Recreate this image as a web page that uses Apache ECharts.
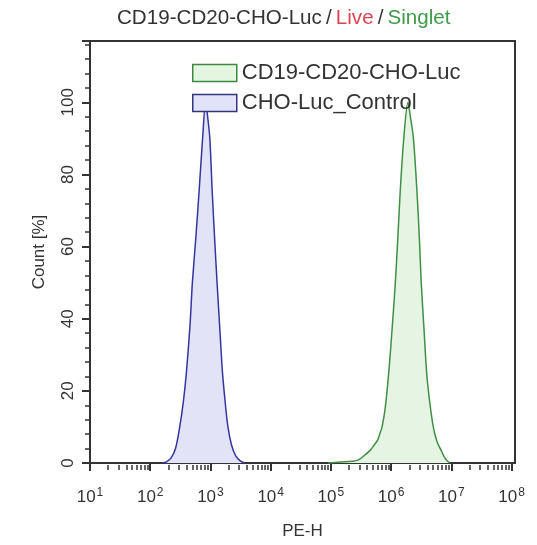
<!DOCTYPE html>
<html>
<head>
<meta charset="utf-8">
<script src="https://cdn.jsdelivr.net/npm/echarts@6/dist/echarts.min.js"></script>
<style>html,body{margin:0;padding:0;background:#fff}#c{width:537px;height:545px}</style>
</head>
<body>
<div id="c"></div>
<script>
// PE-H values (linear units) and Count [%] for each histogram
const controlName = 'CHO-Luc_Control';
const controlX = [158, 186, 224, 263, 309, 355, 398, 457, 501, 575, 646, 741, 832, 912, 977, 1072, 1175, 1288, 1445, 1585, 1778, 1950, 2239, 2630, 3162, 3715];
const controlY = [0, 0.3, 1.5, 4, 10, 17, 25, 38, 50, 63, 75, 90, 100, 95, 90, 75, 62, 50, 36, 25, 16, 10, 5, 2, 0.5, 0];

const sampleName = 'CD19-CD20-CHO-Luc';
const sampleX = [89125, 141254, 223872, 281838, 354813, 446684, 524807, 602560, 660693, 707946, 794328, 912011, 1047129, 1174898, 1288250, 1412538, 1621810, 1905461, 2089296, 2344229, 2691535, 2951209, 3162278, 3548134, 3890451, 4365158, 5011872, 5754399, 6760830, 7943282, 9332543];
const sampleY = [0, 0.3, 0.5, 0.8, 2, 3.5, 5, 6.5, 8.5, 10, 15, 25, 38, 50, 62, 75, 90, 100, 96, 90, 75, 62, 50, 36, 25, 17, 10, 6, 3.5, 1.2, 0];

const xMajorTicks = [10, 100, 1000, 10000, 100000, 1000000, 10000000, 100000000];
const yTicks = [0, 20, 40, 60, 80, 100];

const xMinorTicks = [];
xMajorTicks.slice(0, -1).forEach(d => { for (let k = 2; k <= 9; k++) xMinorTicks.push(d * k); });

const FONT = 'Liberation Sans, Arial, sans-serif';
const XMIN = 10, XMAX = 114000000, YMAX = 117;
const gridPos = { left: 90, right: 22, top: 41, bottom: 80 };

const pairs = (xs, ys) => xs.map((x, i) => [x, ys[i]]);

const chart = echarts.init(document.getElementById('c'), null, { renderer: 'canvas' });
chart.setOption({
  animation: false,
  backgroundColor: '#fff',
  title: {
    text: '{a|CD19-CD20-CHO-Luc}{a|\u2009/\u2009}{b|Live}{a|\u2009/\u2009}{c|Singlet}',
    left: 117, top: 8, padding: 0,
    textStyle: {
      rich: {
        a: { fontFamily: FONT, fontSize: 20.6, fontWeight: 'normal', color: '#333' },
        b: { fontFamily: FONT, fontSize: 20.6, fontWeight: 'normal', color: '#dc4654' },
        c: { fontFamily: FONT, fontSize: 20.6, fontWeight: 'normal', color: '#3f9a4a' }
      }
    }
  },
  legend: {
    orient: 'vertical', left: 192, top: 62, padding: 0,
    itemWidth: 44, itemHeight: 17, itemGap: 8,
    textStyle: { fontFamily: FONT, fontSize: 22, color: '#333' },
    data: [
      { name: sampleName, icon: 'rect', itemStyle: { color: '#e4f5e2', borderColor: '#3c8a3f', borderWidth: 1.5 } },
      { name: controlName, icon: 'rect', itemStyle: { color: '#e2e2f8', borderColor: '#35357e', borderWidth: 1.5 } }
    ]
  },
  grid: [
    Object.assign({ show: true, borderColor: '#333', borderWidth: 2, backgroundColor: 'transparent' }, gridPos),
    Object.assign({ show: false }, gridPos)
  ],
  xAxis: [
    {
      type: 'log', gridIndex: 0, min: XMIN, max: XMAX, logBase: 10,
      name: 'PE-H', nameLocation: 'middle', nameGap: 60,
      nameTextStyle: { fontFamily: FONT, fontSize: 17, color: '#333' },
      axisLine: { show: true, lineStyle: { color: '#333', width: 2 } },
      axisTick: { show: true, length: 8, customValues: xMajorTicks, lineStyle: { color: '#333', width: 2 } },
      axisLabel: {
        customValues: xMajorTicks, margin: 24,
        formatter: v => '{b|10}{s|' + Math.round(Math.log10(v)) + '}',
        rich: {
          b: { fontFamily: FONT, fontSize: 17, color: '#333', lineHeight: 20 },
          s: { fontFamily: FONT, fontSize: 12, color: '#333', verticalAlign: 'top', padding: [0, 0, 0, 1] }
        }
      },
      splitLine: { show: false }
    },
    {
      type: 'log', gridIndex: 1, min: XMIN, max: XMAX, logBase: 10,
      axisLine: { show: false },
      axisTick: { show: true, length: 5, customValues: xMinorTicks, lineStyle: { color: '#333', width: 1.5 } },
      axisLabel: { show: false },
      splitLine: { show: false }
    }
  ],
  yAxis: [
    {
      type: 'value', gridIndex: 0, min: 0, max: YMAX, interval: 20,
      name: 'Count [%]', nameLocation: 'middle', nameGap: 42,
      nameTextStyle: { fontFamily: FONT, fontSize: 17, color: '#333' },
      axisLine: { show: true, lineStyle: { color: '#333', width: 2 } },
      axisTick: { show: true, length: 8, lineStyle: { color: '#333', width: 2 } },
      minorTick: { show: true, splitNumber: 5, length: 5, lineStyle: { color: '#333', width: 1.5 } },
      axisLabel: {
        rotate: 90, margin: 13, fontFamily: FONT, fontSize: 17, color: '#333',
        formatter: v => (yTicks.indexOf(v) >= 0 ? String(v) : '')
      },
      splitLine: { show: false }
    },
    { type: 'value', gridIndex: 1, min: 0, max: YMAX, show: false }
  ],
  series: [
    {
      name: sampleName, type: 'line', xAxisIndex: 0, yAxisIndex: 0,
      data: pairs(sampleX, sampleY), showSymbol: false, smooth: 0.3,
      lineStyle: { color: '#3f8f44', width: 1.5 },
      itemStyle: { color: '#3f8f44' },
      areaStyle: { color: '#e6f4e4', opacity: 1 }
    },
    {
      name: controlName, type: 'line', xAxisIndex: 0, yAxisIndex: 0,
      data: pairs(controlX, controlY), showSymbol: false, smooth: 0.3,
      lineStyle: { color: '#3535a0', width: 1.5 },
      itemStyle: { color: '#3535a0' },
      areaStyle: { color: '#e3e3f7', opacity: 1 }
    }
  ]
});
</script>
</body>
</html>
